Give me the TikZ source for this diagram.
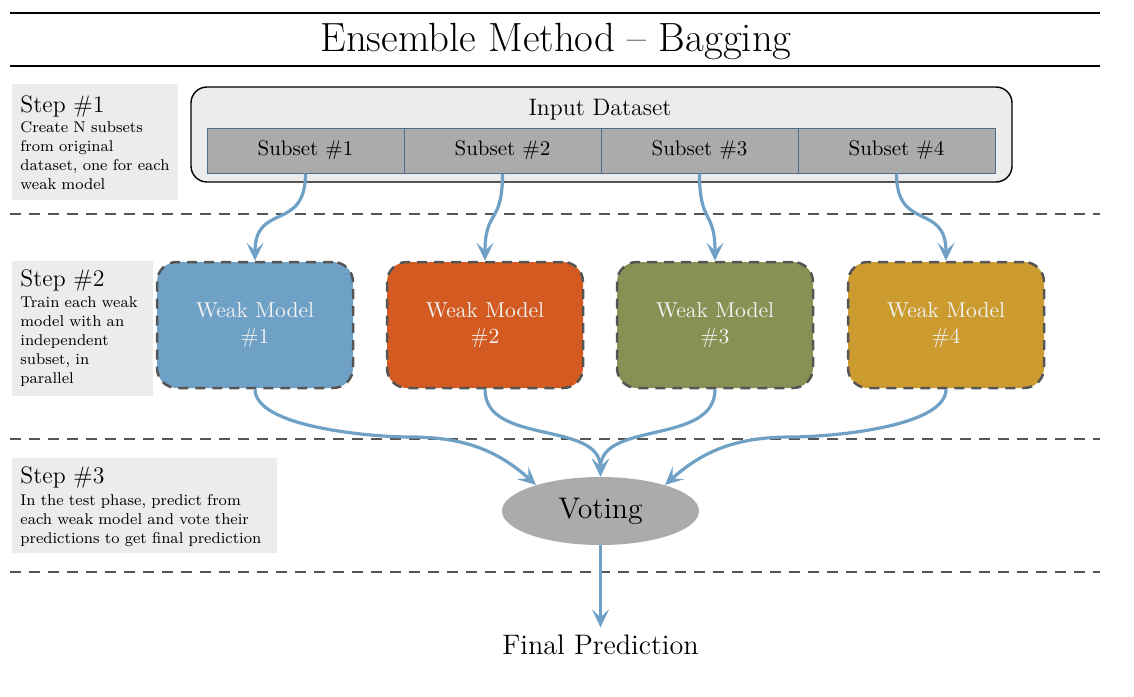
\documentclass[tikz,border=0pt]{standalone}
\usetikzlibrary{arrows.meta,shapes.geometric}
\definecolor{arrowblue}{HTML}{6FA0C5}
\definecolor{wmblue}{HTML}{6FA0C5}
\definecolor{wmorange}{HTML}{D35A20}
\definecolor{wmolive}{HTML}{899054}
\definecolor{wmgold}{HTML}{CB9B30}
\definecolor{boxgray}{HTML}{ECECEC}
\definecolor{cellgray}{HTML}{ABABAB}
\definecolor{dashgray}{HTML}{555555}
\definecolor{cellborder}{HTML}{4F6D8A}
\definecolor{wmtext}{HTML}{F2F2F2}
\tikzset{
  seprule/.style={draw=dashgray, line width=1.2pt, dash pattern=on 5.5pt off 4pt},
  stepbg/.style={fill=boxgray, inner sep=0pt, anchor=north west},
  steptitle/.style={anchor=base west, inner sep=0pt, font=\fontsize{11.9}{13}\selectfont},
  stepdesc/.style={anchor=base west, inner sep=0pt, align=left, font=\fontsize{7.8}{9.5}\selectfont},
  inputbox/.style={draw=black, line width=0.7pt, fill=boxgray, rounded corners=8pt, minimum width=410.5pt, minimum height=47.5pt, inner sep=0pt},
  cell/.style={draw=cellborder, line width=0.5pt, fill=cellgray, minimum width=98.5pt, minimum height=22.5pt, inner sep=0pt, font=\fontsize{10.5}{12.5}\selectfont},
  wm/.style={draw=dashgray, line width=1.25pt, dash pattern=on 5pt off 3.5pt, rounded corners=10pt, minimum width=98pt, minimum height=63pt, inner sep=0pt, align=center, text=wmtext, font=\fontsize{10.8}{13}\selectfont},
  arr/.style={draw=arrowblue, line width=1.6pt, -{Stealth[length=9pt,width=8.5pt,inset=4pt]}},
}
\begin{document}
\begin{tikzpicture}[x=0.5pt,y=0.5pt]
\useasboundingbox (0,0) rectangle (1134,-696);

% title
\node[anchor=base, inner sep=0pt, font=\fontsize{20.4}{24}\selectfont] (title) at (556,-51) {Ensemble Method -- Bagging};
\draw[line width=0.8pt] (10,-13) -- (1100,-13);
\draw[line width=1.1pt] (10,-66) -- (1100,-66);

% separators
\draw[seprule] (10,-214) -- (1100,-214);
\draw[seprule] (10,-439) -- (1100,-439);
\draw[seprule] (10,-572) -- (1100,-572);

% step boxes
\node[stepbg, minimum width=83pt, minimum height=58pt] (st1bg) at (12,-84) {};
\node[steptitle] (st1) at (20,-112) {Step \#1};
\node[stepdesc, text width=80pt] (st1d) at (20,-132) {Create N subsets\\from original\\dataset, one for each\\weak model};

\node[stepbg, minimum width=70.5pt, minimum height=67.5pt] (st2bg) at (12,-261) {};
\node[steptitle] (st2) at (20,-286) {Step \#2};
\node[stepdesc, text width=66pt] (st2d) at (20,-307) {Train each weak\\model with an\\independent\\subset, in\\parallel};

\node[stepbg, minimum width=132.5pt, minimum height=47.5pt] (st3bg) at (12,-458) {};
\node[steptitle] (st3) at (20,-483) {Step \#3};
\node[stepdesc, text width=128pt] (st3d) at (20,-505) {In the test phase, predict from\\each weak model and vote their\\predictions to get final prediction};

% input dataset
\node[inputbox] (input) at (601.5,-134.5) {};
\node[anchor=base, inner sep=0pt, font=\fontsize{11.9}{14}\selectfont] (inlabel) at (600,-115) {Input Dataset};
\node[cell] (s1) at (305.5,-150.5) {Subset \#1};
\node[cell] (s2) at (502.5,-150.5) {Subset \#2};
\node[cell] (s3) at (699.5,-150.5) {Subset \#3};
\node[cell] (s4) at (896.5,-150.5) {Subset \#4};

% weak models
\node[wm, fill=wmblue] (w1) at (255,-325) {Weak Model\\\#1};
\node[wm, fill=wmorange] (w2) at (485,-325) {Weak Model\\\#2};
\node[wm, fill=wmolive] (w3) at (715,-325) {Weak Model\\\#3};
\node[wm, fill=wmgold] (w4) at (946,-325) {Weak Model\\\#4};

% voting and final
\node[ellipse, fill=cellgray, minimum width=98.5pt, minimum height=34pt, inner sep=0pt, font=\fontsize{14.9}{17}\selectfont] (vote) at (600.5,-511) {Voting};
\node[anchor=base, font=\fontsize{14.1}{17}\selectfont] (final) at (600.5,-654) {Final Prediction};

\coordinate (m1) at (410,-437);
\coordinate (m4) at (791,-437);

% arrows
\draw[arr] (s1.south) to[out=-90,in=90,looseness=1.5] (w1.north);
\draw[arr] (s2.south) to[out=-90,in=90,looseness=1.5] (w2.north);
\draw[arr] (s3.south) to[out=-90,in=90,looseness=1.5] (w3.north);
\draw[arr] (s4.south) to[out=-90,in=90,looseness=1.5] (w4.north);

\draw[arr] (w1.south) to[out=-90,in=180,looseness=0.6] (m1) to[out=0,in=138] (vote.158);
\draw[arr] (w2.south) to[out=-90,in=90] (vote.north);
\draw[arr] (w3.south) to[out=-90,in=90] (vote.north);
\draw[arr] (w4.south) to[out=-90,in=0,looseness=0.6] (m4) to[out=180,in=42] (vote.22);
\draw[arr] (vote.south) -- (final.north);
\end{tikzpicture}
\end{document}
